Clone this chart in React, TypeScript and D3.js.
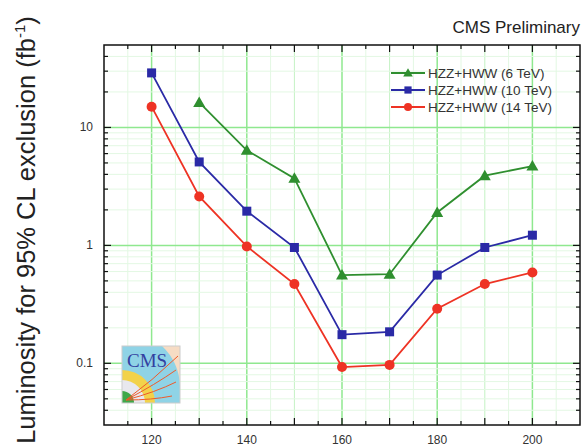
import React from "react";
import * as d3 from "d3";

const masses = [120, 130, 140, 150, 160, 170, 180, 190, 200];
const lumi6TeV: (number | null)[] = [null, 16.3, 6.4, 3.7, 0.56, 0.57, 1.9, 3.9, 4.7];
const lumi10TeV: (number | null)[] = [29, 5.1, 1.95, 0.96, 0.175, 0.185, 0.56, 0.96, 1.22];
const lumi14TeV: (number | null)[] = [15, 2.6, 0.98, 0.47, 0.093, 0.097, 0.29, 0.47, 0.59];
const seriesNames = ["HZZ+HWW (6 TeV)", "HZZ+HWW (10 TeV)", "HZZ+HWW (14 TeV)"];
const seriesColors = ["#2f8f2f", "#2a2aa6", "#ee3324"];
const xTicks = [120, 140, 160, 180, 200];
const yTicks = [0.1, 1, 10];

const W = 585, H = 448;
const L = 104, R = 580, T = 45, B = 425;

export default function App() {
  const x = d3.scaleLinear().domain([110, 210]).range([L, R]);
  const y = d3.scaleLog().domain([0.03, 50]).range([B, T]);
  const series = [lumi6TeV, lumi10TeV, lumi14TeV];
  const line = d3
    .line<[number, number | null]>()
    .defined((d) => d[1] != null)
    .x((d) => x(d[0]))
    .y((d) => y(d[1] as number));

  const x5 = d3.range(115, 210, 5);
  const minorY: number[] = [];
  for (const dec of [0.01, 0.1, 1, 10]) {
    for (let k = 2; k <= 9; k++) {
      const v = dec * k;
      if (v > 0.03 && v < 50) minorY.push(v);
    }
  }

  const marker = (i: number, cx: number, cy: number, key: string, s = 1) => {
    const c = seriesColors[i];
    if (i === 0) {
      const r = 6 * s;
      return (
        <path key={key} d={`M${cx},${cy - r}L${cx + r},${cy + r * 0.75}L${cx - r},${cy + r * 0.75}Z`} fill={c} />
      );
    }
    if (i === 1) {
      const h = 4.5 * s;
      return <rect key={key} x={cx - h} y={cy - h} width={2 * h} height={2 * h} fill={c} />;
    }
    return <circle key={key} cx={cx} cy={cy} r={5 * s} fill={c} />;
  };

  return (
    <svg width={W} height={H} style={{ position: "absolute", left: 0, top: 0 }} fontFamily="Liberation Sans, Arial, sans-serif">
      <rect width={W} height={H} fill="#fff" />
      {/* grid */}
      <g>
        {x5.map((v) => (
          <line key={"gx" + v} x1={x(v)} x2={x(v)} y1={T} y2={B}
            stroke={v % 20 === 0 ? "#8fe88f" : v % 10 === 0 ? "#c4f2c4" : "#e3f8e3"} strokeWidth={v % 20 === 0 ? 1.5 : 1} />
        ))}
        {minorY.map((v) => (
          <line key={"gy" + v} x1={L} x2={R} y1={y(v)} y2={y(v)} stroke="#e3f8e3" strokeWidth={1} />
        ))}
        {yTicks.map((v) => (
          <line key={"gY" + v} x1={L} x2={R} y1={y(v)} y2={y(v)} stroke="#8fe88f" strokeWidth={1.5} />
        ))}
      </g>
      {/* ticks */}
      <g stroke="#111" strokeWidth={1.2}>
        {x5.map((v) => (
          <g key={"tx" + v}>
            <line x1={x(v)} x2={x(v)} y1={B} y2={B - (v % 10 === 0 ? 7 : 4)} />
            <line x1={x(v)} x2={x(v)} y1={T} y2={T + (v % 10 === 0 ? 7 : 4)} />
          </g>
        ))}
        {minorY.map((v) => (
          <g key={"ty" + v}>
            <line x1={L} x2={L + 4} y1={y(v)} y2={y(v)} />
            <line x1={R} x2={R - 4} y1={y(v)} y2={y(v)} />
          </g>
        ))}
        {yTicks.map((v) => (
          <g key={"tY" + v}>
            <line x1={L} x2={L + 7} y1={y(v)} y2={y(v)} />
            <line x1={R} x2={R - 7} y1={y(v)} y2={y(v)} />
          </g>
        ))}
      </g>
      {/* tick labels */}
      <g fontSize={12} fill="#333">
        {xTicks.map((v) => (
          <text key={"lx" + v} x={x(v)} y={444} textAnchor="middle">{v}</text>
        ))}
        {yTicks.map((v) => (
          <text key={"ly" + v} x={L - 11} y={y(v) + 4} textAnchor="end">{v}</text>
        ))}
      </g>
      {/* logo */}
      <g transform="translate(122,346)">
        <clipPath id="logoclip"><rect x={0} y={0} width={58} height={57} /></clipPath>
        <g clipPath="url(#logoclip)">
          <rect x={0} y={0} width={58} height={57} fill="#f6dcc4" />
          <path d="M0,0 L40,0 A58,58 0 0 1 58,40 L58,57 L0,57 Z" fill="#8fd3e6" />
          <path d="M0,24 A33,33 0 0 1 33,57 L0,57 Z" fill="#f2d24a" />
          <path d="M0,34 A23,23 0 0 1 23,57 L0,57 Z" fill="#e8e8ee" />
          <path d="M0,45 A12,12 0 0 1 12,57 L0,57 Z" fill="#3fa84a" />
          <g stroke="#ee5a2a" strokeWidth={1} fill="none">
            <path d="M4,54 Q30,35 56,10" />
            <path d="M4,54 Q34,38 54,24" />
            <path d="M4,54 Q34,46 54,36" />
            <path d="M4,54 Q30,54 50,50" />
          </g>
          <text x={5} y={21} fontSize={19} fill="#3340a0" fontFamily="Liberation Serif, serif">CMS</text>
        </g>
        <rect x={0} y={0} width={58} height={57} fill="none" stroke="#ccc" strokeWidth={1} />
      </g>
      {/* series */}
      {series.map((s, i) => (
        <g key={"s" + i}>
          <path d={line(masses.map((m, j) => [m, s[j]]) as [number, number | null][]) || ""} fill="none" stroke={seriesColors[i]} strokeWidth={1.8} />
          {masses.map((m, j) => (s[j] != null ? marker(i, x(m), y(s[j] as number), "m" + i + "-" + j) : null))}
        </g>
      ))}
      {/* frame */}
      <rect x={L} y={T} width={R - L} height={B - T} fill="none" stroke="#111" strokeWidth={1.5} />
      {/* legend */}
      <g fontSize={13.5} fill="#333">
        {seriesNames.map((n, i) => {
          const ly = 73 + i * 17;
          return (
            <g key={"lg" + i}>
              <line x1={391} x2={425} y1={ly} y2={ly} stroke={seriesColors[i]} strokeWidth={1.8} />
              {marker(i, 408, ly, "lm" + i, 0.8)}
              <text x={428} y={ly + 5}>{n}</text>
            </g>
          );
        })}
      </g>
      {/* title */}
      <text x={580} y={33} fontSize={17} textAnchor="end" fill="#222">CMS Preliminary</text>
      {/* y label */}
      <text transform="translate(35,230) rotate(-90)" fontSize={25.5} textAnchor="middle" fill="#222">
        Luminosity for 95% CL exclusion (fb<tspan dy={-10} fontSize={15}>-1</tspan><tspan dy={10}>)</tspan>
      </text>
    </svg>
  );
}
